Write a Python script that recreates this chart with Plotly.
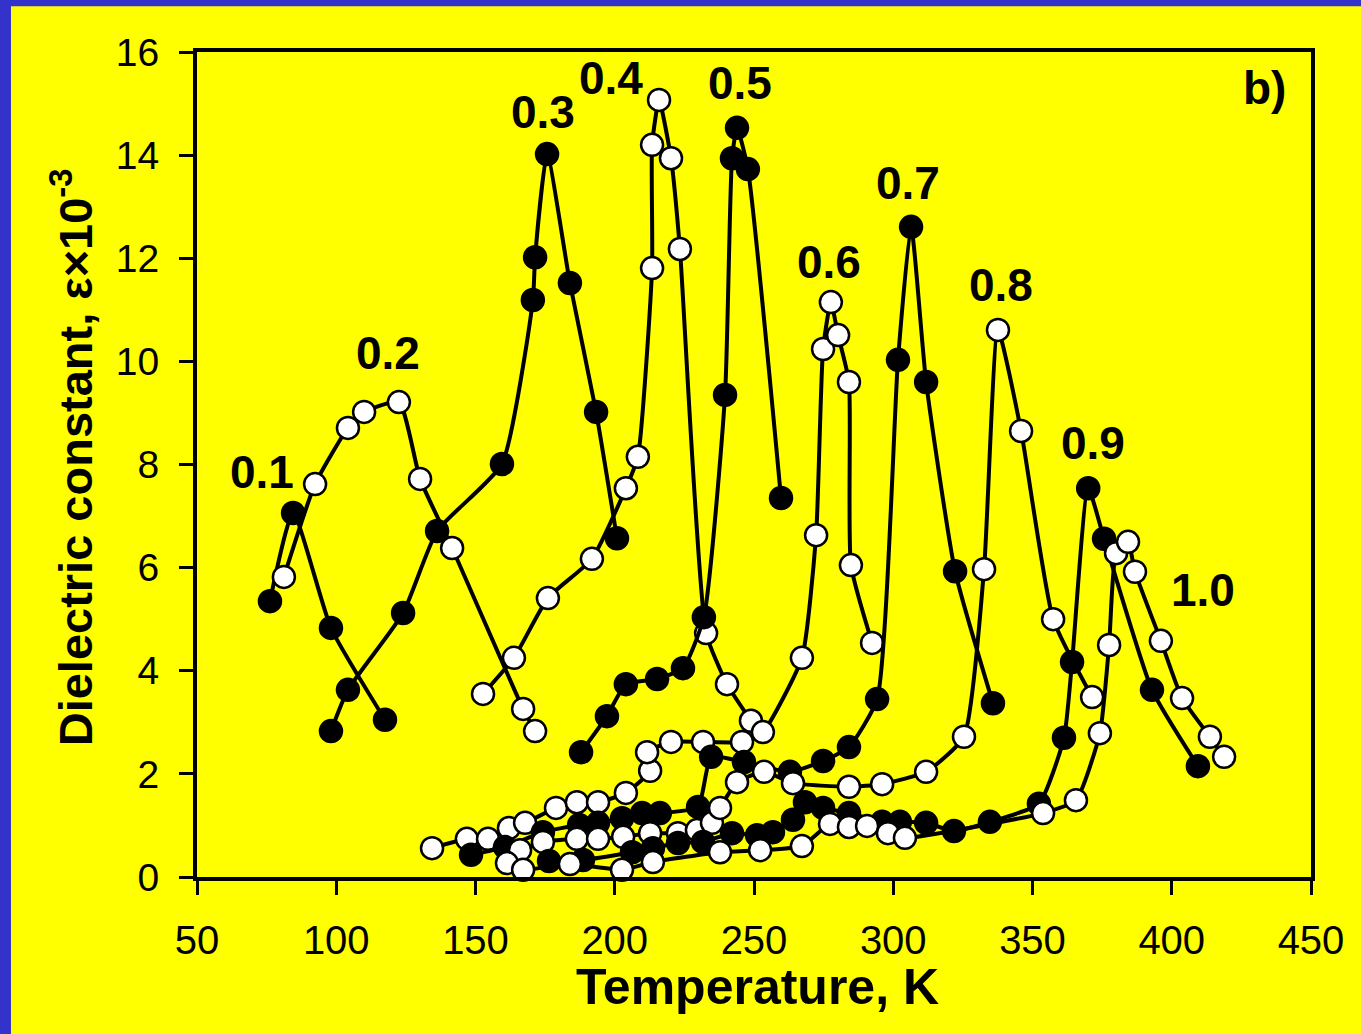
import plotly.graph_objects as go

# ---- data (Temperature K, dielectric constant x1e-3) ----
t01 = [76.2, 84.5, 98.1, 117.5]
e01 = [5.35, 7.06, 4.83, 3.05]

t02 = [81.2, 92.4, 104.2, 110.0, 122.5, 130.1, 141.6, 167.1, 171.4]
e02 = [5.82, 7.62, 8.71, 9.02, 9.21, 7.72, 6.38, 3.26, 2.83]

t03 = [98.1, 104.2, 124.0, 136.2, 159.5, 170.6, 171.4, 175.7, 183.9, 193.3, 200.8]
e03 = [2.83, 3.63, 5.12, 6.71, 8.01, 11.19, 12.02, 14.02, 11.52, 9.02, 6.57]

t04 = [152.7, 163.8, 176.0, 191.8, 204.0, 208.3, 213.4, 213.4, 215.9, 220.2, 223.4, 232.8, 240.3, 248.9]
e04 = [3.55, 4.25, 5.41, 6.17, 7.54, 8.15, 11.81, 14.20, 15.07, 13.94, 12.18, 4.73, 3.74, 3.03]

t05 = [187.9, 197.2, 204.0, 215.2, 224.5, 232.0, 239.6, 242.1, 243.9, 247.8, 259.7]
e05 = [2.42, 3.12, 3.74, 3.84, 4.05, 5.04, 9.35, 13.94, 14.53, 13.73, 7.35]

t06 = [134.4, 146.9, 154.5, 162.0, 167.8, 178.9, 186.4, 194.0, 204.0, 212.7, 211.6, 220.2,
       231.7, 245.7, 253.2, 267.2, 272.3, 274.8, 277.6, 280.2, 284.1, 284.8, 292.4]
e06 = [0.56, 0.74, 0.74, 0.95, 1.05, 1.34, 1.45, 1.45, 1.63, 2.06, 2.42, 2.62,
       2.62, 2.62, 2.81, 4.25, 6.63, 10.24, 11.15, 10.51, 9.60, 6.05, 4.54]

t07 = [148.4, 160.6, 174.2, 187.2, 194.0, 202.6, 209.8, 216.2, 229.9, 234.6, 246.4, 262.9,
       274.8, 284.1, 294.2, 301.7, 306.4, 311.8, 322.2, 335.8]
e07 = [0.43, 0.58, 0.87, 1.01, 1.05, 1.14, 1.24, 1.24, 1.36, 2.33, 2.23, 2.04,
       2.25, 2.52, 3.45, 10.03, 12.61, 9.60, 5.93, 3.37]

t08 = [166.0, 174.2, 186.4, 194.0, 203.0, 212.7, 222.7, 229.5, 234.9, 237.8, 243.9, 253.6,
       264.0, 284.1, 296.0, 311.8, 325.4, 332.6, 337.6, 345.9, 357.4, 371.4]
e08 = [0.52, 0.68, 0.74, 0.74, 0.78, 0.85, 0.85, 0.91, 1.05, 1.34, 1.84, 2.04,
       1.82, 1.75, 1.80, 2.04, 2.72, 5.97, 10.61, 8.65, 5.00, 3.49]

t09 = [176.4, 188.6, 206.2, 213.7, 222.7, 231.7, 242.1, 251.1, 256.8, 264.0, 268.3, 274.8,
       284.1, 296.0, 302.4, 311.8, 321.8, 334.7, 352.3, 361.3, 364.2, 370.0, 375.7, 392.9, 409.4]
e09 = [0.31, 0.33, 0.48, 0.56, 0.66, 0.68, 0.85, 0.81, 0.87, 1.11, 1.45, 1.34,
       1.24, 1.07, 1.07, 1.05, 0.89, 1.07, 1.42, 2.70, 4.17, 7.54, 6.56, 3.63, 2.15]

t10 = [161.3, 167.1, 183.9, 202.6, 213.7, 237.8, 252.2, 267.2, 277.3, 284.1, 290.6, 298.1,
       304.2, 353.8, 365.6, 374.2, 377.5, 380.0, 384.3, 386.8, 396.1, 403.7, 413.7, 418.8]
e10 = [0.27, 0.14, 0.25, 0.14, 0.29, 0.48, 0.52, 0.60, 1.03, 0.97, 0.99, 0.85,
       0.76, 1.24, 1.49, 2.79, 4.50, 6.28, 6.50, 5.92, 4.58, 3.47, 2.72, 2.33]

series = [
    ("0.1", t01, e01, True),
    ("0.2", t02, e02, False),
    ("0.3", t03, e03, True),
    ("0.4", t04, e04, False),
    ("0.5", t05, e05, True),
    ("0.6", t06, e06, False),
    ("0.7", t07, e07, True),
    ("0.8", t08, e08, False),
    ("0.9", t09, e09, True),
    ("1.0", t10, e10, False),
]

label_text = ["0.1", "0.2", "0.3", "0.4", "0.5", "0.6", "0.7", "0.8", "0.9", "1.0", "b)"]
label_x = [73.3, 118.6, 174.2, 198.6, 245.0, 276.9, 305.3, 338.7, 371.7, 411.2, 433.4]
label_y = [7.85, 10.16, 14.84, 15.50, 15.40, 11.93, 13.46, 11.48, 8.42, 5.57, 15.30]

x_ticks = [50, 100, 150, 200, 250, 300, 350, 400, 450]
y_ticks = [0, 2, 4, 6, 8, 10, 12, 14, 16]

FONT = "Liberation Sans, Arial, sans-serif"
YELLOW = "#FFFF00"
BLUE = "#3333CC"

fig = go.Figure()
for name, tx, ey, filled in series:
    fig.add_trace(go.Scatter(
        x=tx, y=ey, mode="lines+markers", name=name,
        line=dict(color="black", width=4, shape="spline", smoothing=0.5),
        marker=dict(symbol="circle", size=22,
                    color="black" if filled else "white",
                    line=dict(color="black", width=2.5)),
        showlegend=False, cliponaxis=False,
    ))

for txt, lx, ly in zip(label_text, label_x, label_y):
    fig.add_annotation(x=lx, y=ly, xref="x", yref="y", text=txt, showarrow=False,
                       font=dict(family=FONT, size=46, color="black", weight="bold"),
                       xanchor="center", yanchor="middle")

# axis titles
fig.add_annotation(x=0.5027, y=-0.133, xref="paper", yref="paper",
                   text="Temperature, K", showarrow=False,
                   font=dict(family=FONT, size=50, color="black", weight="bold"),
                   xanchor="center", yanchor="middle")
fig.add_annotation(x=-0.112, y=0.509, xref="paper", yref="paper",
                   text="Dielectric constant, ε×10<sup>-3</sup>", showarrow=False,
                   textangle=-90,
                   font=dict(family=FONT, size=47, color="black", weight="bold"),
                   xanchor="center", yanchor="middle")

# blue strips at left and top
fig.add_shape(type="rect", xref="paper", yref="paper", x0=-0.19, x1=-0.1670, y0=-0.2, y1=1.07,
              fillcolor=BLUE, line=dict(width=0), layer="below")
fig.add_shape(type="rect", xref="paper", yref="paper", x0=-0.19, x1=1.06, y0=1.0555, y1=1.07,
              fillcolor=BLUE, line=dict(width=0), layer="below")

fig.update_xaxes(range=[50, 450], tickvals=x_ticks, ticktext=[str(v) for v in x_ticks],
                 showline=True, linecolor="black", linewidth=4, mirror=True,
                 ticks="outside", ticklen=14, tickwidth=3, tickcolor="black",
                 showgrid=False, zeroline=False, ticklabelstandoff=11,
                 tickfont=dict(family=FONT, size=40, color="black"))
fig.update_yaxes(range=[0, 16], tickvals=y_ticks, ticktext=[str(v) for v in y_ticks],
                 showline=True, linecolor="black", linewidth=4, mirror=True,
                 ticks="outside", ticklen=14, tickwidth=3, tickcolor="black",
                 showgrid=False, zeroline=False, ticklabelstandoff=12,
                 tickfont=dict(family=FONT, size=39, color="black"))

fig.update_layout(width=1361, height=1034,
                  margin=dict(l=197, r=50, t=52, b=157),
                  paper_bgcolor=YELLOW, plot_bgcolor=YELLOW,
                  showlegend=False)

fig.write_html("out.html", config={"displayModeBar": False},
               post_script="document.body.style.margin='0px';document.body.style.padding='0px';"
                           "document.body.style.overflow='hidden';")
